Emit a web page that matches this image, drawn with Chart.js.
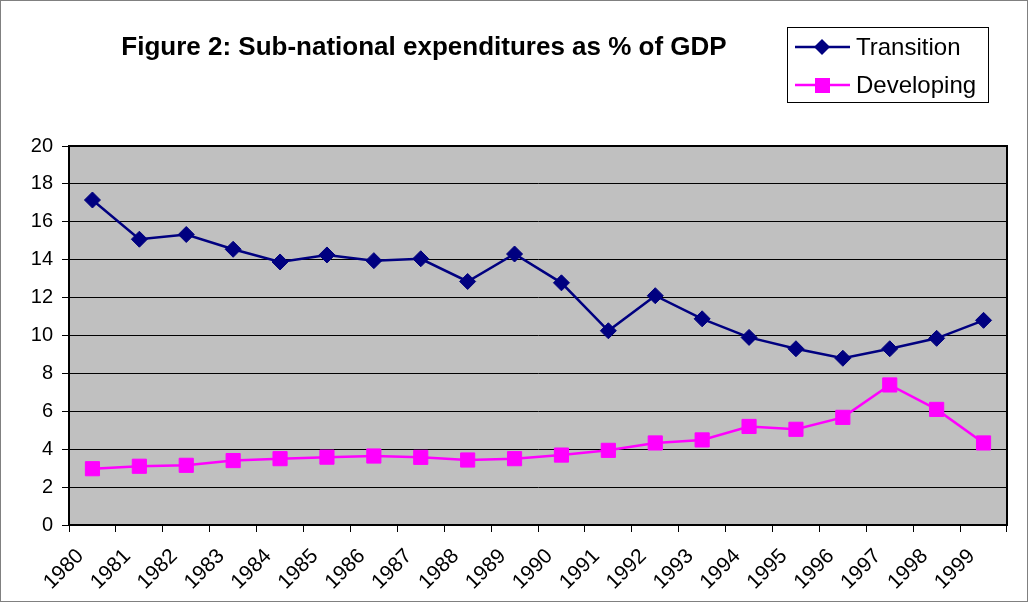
<!DOCTYPE html>
<html>
<head>
<meta charset="utf-8">
<script src="https://cdn.jsdelivr.net/npm/chart.js@4"></script>
<style>
  html, body { margin: 0; padding: 0; background: #fff; }
  #wrap { width: 1029px; height: 603px; position: relative; }
</style>
</head>
<body>
<div id="wrap"><canvas id="chart" width="1029" height="603"></canvas></div>
<script>
// data
const years = ["1980","1981","1982","1983","1984","1985","1986","1987","1988","1989",
               "1990","1991","1992","1993","1994","1995","1996","1997","1998","1999"];
const transition = [17.15, 15.08, 15.33, 14.55, 13.88, 14.25, 13.95, 14.05, 12.85, 14.3,
                    12.78, 10.25, 12.1, 10.88, 9.9, 9.3, 8.8, 9.3, 9.85, 10.8];
const developing = [2.97, 3.1, 3.15, 3.4, 3.5, 3.58, 3.64, 3.57, 3.43, 3.5,
                    3.69, 3.94, 4.33, 4.49, 5.2, 5.05, 5.68, 7.39, 6.1, 4.33];
const yTicks = [0, 2, 4, 6, 8, 10, 12, 14, 16, 18, 20];

const titleText = "Figure 2: Sub-national expenditures as % of GDP";
const FONT = "Arial, 'Liberation Sans', sans-serif";

// plot area background + outer frame, title and legend box
const framePlugin = {
  id: "frame",
  beforeDraw(chart) {
    const c = chart.ctx, a = chart.chartArea;
    c.save();
    c.fillStyle = "#fff";
    c.fillRect(0, 0, chart.width, chart.height);
    c.strokeStyle = "#808080";
    c.lineWidth = 1;
    c.strokeRect(0.5, 0.5, chart.width - 2, chart.height - 2);
    c.fillStyle = "#C0C0C0";
    c.fillRect(a.left, a.top, a.right - a.left, a.bottom - a.top);
    c.restore();
  },
  afterDatasetsDraw(chart) {
    const c = chart.ctx, a = chart.chartArea;
    c.save();
    c.strokeStyle = "#000";
    c.lineWidth = 2;
    c.strokeRect(a.left, a.top, a.right - a.left, a.bottom - a.top);
    c.restore();
  },
  afterDraw(chart) {
    const c = chart.ctx;
    c.save();
    // title
    c.fillStyle = "#000";
    c.font = "bold 26px " + FONT;
    c.textAlign = "center";
    c.textBaseline = "middle";
    c.fillText(titleText, 424, 48);
    // legend box
    c.fillStyle = "#fff";
    c.fillRect(787, 27, 202, 76);
    c.strokeStyle = "#000";
    c.lineWidth = 1;
    c.strokeRect(787.5, 27.5, 201, 75);
    c.font = "24px " + FONT;
    c.textAlign = "left";
    chart.data.datasets.forEach((ds, i) => {
      const y = 47 + i * 38;
      c.strokeStyle = ds.borderColor;
      c.lineWidth = 2.5;
      c.beginPath();
      c.moveTo(795, y);
      c.lineTo(850, y);
      c.stroke();
      c.fillStyle = ds.pointBackgroundColor;
      c.beginPath();
      if (ds.pointStyle === "rectRot") {
        c.moveTo(822, y - 8); c.lineTo(830, y); c.lineTo(822, y + 8); c.lineTo(814, y);
        c.closePath();
      } else {
        c.rect(815, y - 7, 15, 15);
      }
      c.fill();
      c.fillStyle = "#000";
      c.fillText(ds.label, 856, y + 1);
    });
    c.restore();
  }
};

new Chart(document.getElementById("chart"), {
  type: "line",
  data: {
    labels: years,
    datasets: [
      {
        label: "Transition",
        data: transition,
        borderColor: "#000080",
        backgroundColor: "#000080",
        pointBackgroundColor: "#000080",
        pointBorderColor: "#000080",
        pointStyle: "rectRot",
        pointRadius: 8,
        pointBorderWidth: 1,
        borderWidth: 2.5,
        tension: 0
      },
      {
        label: "Developing",
        data: developing,
        borderColor: "#FF00FF",
        backgroundColor: "#FF00FF",
        pointBackgroundColor: "#FF00FF",
        pointBorderColor: "#FF00FF",
        pointStyle: "rect",
        pointRadius: 10,
        pointBorderWidth: 1,
        borderWidth: 2.5,
        tension: 0
      }
    ]
  },
  options: {
    responsive: false,
    animation: false,
    layout: { padding: { top: 146, right: 22, left: 0, bottom: 0 } },
    plugins: {
      legend: { display: false },
      title: { display: false },
      tooltip: { enabled: false }
    },
    scales: {
      x: {
        offset: true,
        grid: { offset: true, drawOnChartArea: false, drawTicks: true, tickLength: 7, color: "#000", lineWidth: 1 },
        border: { display: true, color: "#000", width: 2 },
        ticks: {
          color: "#000",
          font: { family: FONT, size: 21 },
          maxRotation: 45,
          minRotation: 45,
          autoSkip: false,
          padding: 12,
          labelOffset: -12
        },
        afterFit(scale) { scale.height = 603 - 525; }
      },
      y: {
        min: 0,
        max: 20,
        afterBuildTicks(scale) { scale.ticks = yTicks.map(v => ({ value: v })); },
        grid: { color: "#000", lineWidth: 1, tickLength: 7 },
        border: { display: true, color: "#000", width: 2 },
        ticks: {
          color: "#000",
          font: { family: FONT, size: 20 },
          padding: 9
        },
        afterFit(scale) { scale.width = 69; }
      }
    }
  },
  plugins: [framePlugin]
});
</script>
</body>
</html>
